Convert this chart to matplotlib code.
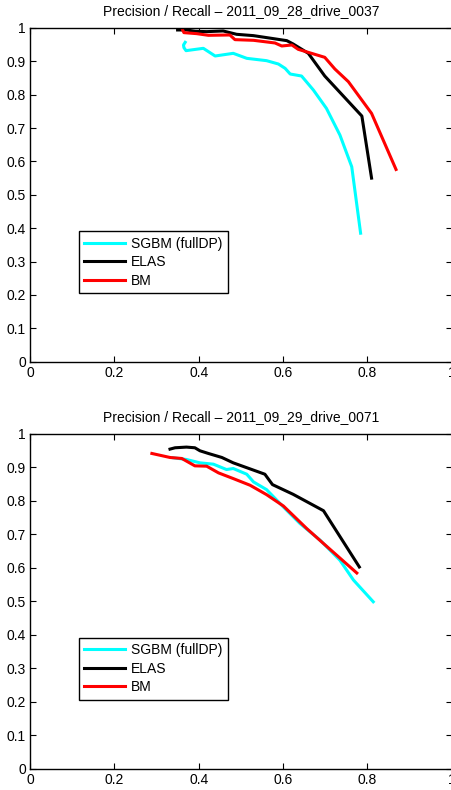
import matplotlib
matplotlib.use("Agg")
import matplotlib.pyplot as plt

plt.rcParams['font.family'] = ['Liberation Sans', 'DejaVu Sans']

# 2011_09_28_drive_0037
top_sgbm_r = [0.368, 0.364, 0.365, 0.370, 0.411, 0.439, 0.482, 0.514, 0.561, 0.589, 0.605,
              0.617, 0.644, 0.672, 0.703, 0.735, 0.763, 0.784]
top_sgbm_p = [0.957, 0.949, 0.941, 0.932, 0.939, 0.916, 0.924, 0.909, 0.902, 0.892, 0.879,
              0.862, 0.856, 0.814, 0.759, 0.679, 0.584, 0.385]
top_elas_r = [0.350, 0.371, 0.392, 0.419, 0.458, 0.490, 0.530, 0.609, 0.624, 0.660, 0.699,
              0.787, 0.810]
top_elas_p = [0.994, 0.994, 0.990, 0.989, 0.991, 0.981, 0.977, 0.962, 0.952, 0.924, 0.856,
              0.736, 0.550]
top_bm_r = [0.362, 0.365, 0.395, 0.423, 0.474, 0.486, 0.530, 0.581, 0.597, 0.621, 0.636,
            0.699, 0.723, 0.755, 0.810, 0.868]
top_bm_p = [0.994, 0.986, 0.983, 0.978, 0.979, 0.965, 0.963, 0.955, 0.946, 0.949, 0.936,
            0.912, 0.877, 0.839, 0.744, 0.576]

# 2011_09_29_drive_0071
bot_sgbm_r = [0.340, 0.371, 0.403, 0.435, 0.466, 0.482, 0.514, 0.530, 0.561, 0.601, 0.640,
              0.688, 0.735, 0.767, 0.814]
bot_sgbm_p = [0.928, 0.923, 0.913, 0.909, 0.893, 0.896, 0.879, 0.856, 0.833, 0.781, 0.732,
              0.682, 0.622, 0.563, 0.498]
bot_elas_r = [0.332, 0.344, 0.371, 0.391, 0.403, 0.423, 0.455, 0.482, 0.557, 0.575, 0.624,
              0.696, 0.781]
bot_elas_p = [0.954, 0.958, 0.960, 0.958, 0.949, 0.941, 0.929, 0.913, 0.879, 0.848, 0.819,
              0.770, 0.602]
bot_bm_r = [0.289, 0.332, 0.360, 0.391, 0.419, 0.447, 0.482, 0.522, 0.561, 0.601, 0.656,
            0.696, 0.775]
bot_bm_p = [0.941, 0.929, 0.926, 0.904, 0.903, 0.883, 0.866, 0.846, 0.818, 0.784, 0.717,
            0.672, 0.584]

titles = ["Precision / Recall \u2013 2011_09_28_drive_0037",
          "Precision / Recall \u2013 2011_09_29_drive_0071"]
labels = ["SGBM (fullDP)", "ELAS", "BM"]
colors = ["#00ffff", "#000000", "#ff0000"]

fig = plt.figure(figsize=(4.52, 7.90), dpi=100)
ax_top = fig.add_axes([0.0664, 0.5422, 0.9329, 0.4224])
ax_bot = fig.add_axes([0.0664, 0.0272, 0.9329, 0.4238])

panels = [
    (ax_top, [(top_sgbm_r, top_sgbm_p), (top_elas_r, top_elas_p), (top_bm_r, top_bm_p)]),
    (ax_bot, [(bot_sgbm_r, bot_sgbm_p), (bot_elas_r, bot_elas_p), (bot_bm_r, bot_bm_p)]),
]

for (ax, series), title in zip(panels, titles):
    for (r, p), lab, c in zip(series, labels, colors):
        ax.plot(r, p, color=c, linewidth=2.2, label=lab)
    ax.set_xlim(0, 1)
    ax.set_ylim(0, 1)
    ax.set_xticks([0, 0.2, 0.4, 0.6, 0.8, 1])
    ax.set_xticklabels(["0", "0.2", "0.4", "0.6", "0.8", "1"])
    ax.set_yticks([i / 10 for i in range(11)])
    ax.set_yticklabels(["0"] + [f"{i / 10:.1f}" for i in range(1, 10)] + ["1"])
    ax.tick_params(direction="in", top=True, right=True, length=4, width=0.8,
                   labelsize=10, pad=3)
    for sp in ax.spines.values():
        sp.set_linewidth(1.0)
    ax.set_title(title, fontsize=10, pad=9)
    ax.legend(loc="lower left", bbox_to_anchor=(0.1155, 0.205), fontsize=10,
              fancybox=False, framealpha=1, edgecolor="black", handlelength=2.95,
              borderpad=0.4, labelspacing=0.33, handletextpad=0.4, borderaxespad=0)

fig.savefig("out.png", dpi=100)
